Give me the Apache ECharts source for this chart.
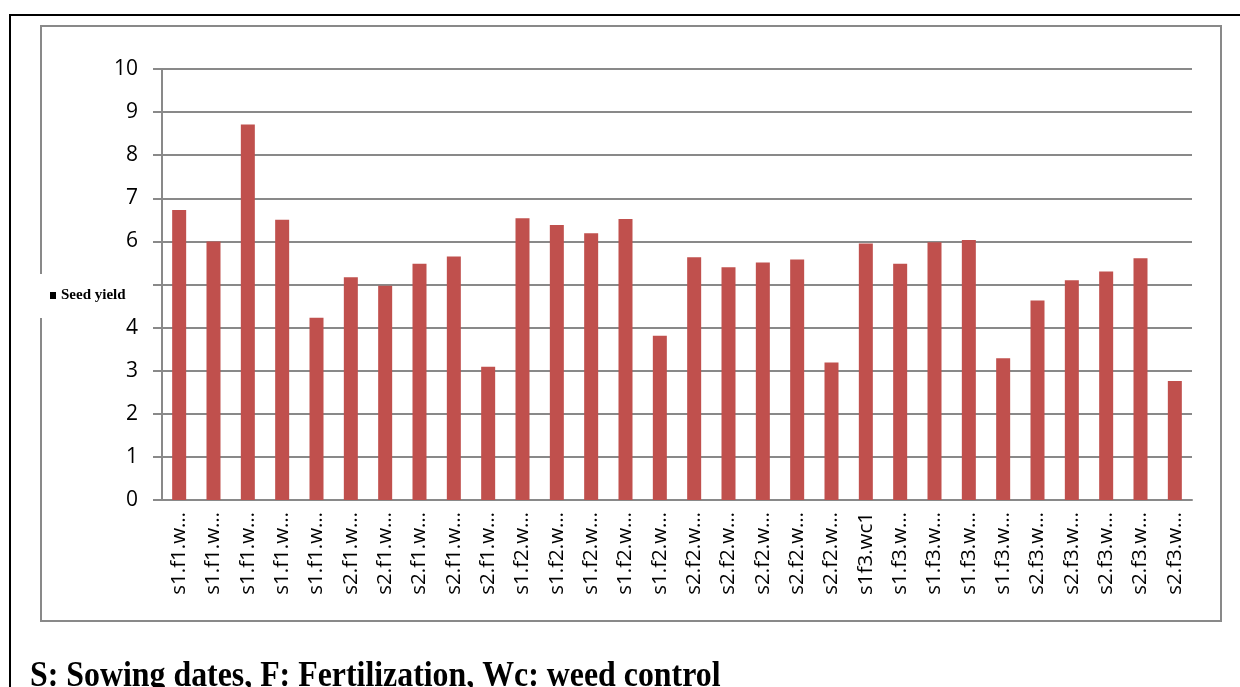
<!DOCTYPE html>
<html>
<head>
<meta charset="utf-8">
<script src="https://cdn.jsdelivr.net/npm/echarts@6/dist/echarts.min.js"></script>
<style>
  html, body { margin: 0; padding: 0; background: #fff; }
  #chart { width: 1240px; height: 687px; }
</style>
</head>
<body>
<div id="chart"></div>
<script>
// treatment combinations, sowing date . fertilization . weed control
const categories = [
  's1.f1.wc1', 's1.f1.wc2', 's1.f1.wc3', 's1.f1.wc4', 's1.f1.wc5',
  's2.f1.wc1', 's2.f1.wc2', 's2.f1.wc3', 's2.f1.wc4', 's2.f1.wc5',
  's1.f2.wc1', 's1.f2.wc2', 's1.f2.wc3', 's1.f2.wc4', 's1.f2.wc5',
  's2.f2.wc1', 's2.f2.wc2', 's2.f2.wc3', 's2.f2.wc4', 's2.f2.wc5',
  's1f3.wc1', 's1.f3.wc2', 's1.f3.wc3', 's1.f3.wc4', 's1.f3.wc5',
  's2.f3.wc1', 's2.f3.wc2', 's2.f3.wc3', 's2.f3.wc4', 's2.f3.wc5'
];
const seedYield = [
  6.73, 6.0, 8.71, 6.5, 4.23,
  5.17, 4.97, 5.48, 5.65, 3.09,
  6.54, 6.38, 6.19, 6.52, 3.81,
  5.63, 5.4, 5.51, 5.58, 3.19,
  5.95, 5.48, 5.98, 6.03, 3.29,
  4.63, 5.1, 5.3, 5.61, 2.76
];
const seriesName = 'Seed yield';
const caption = 'S: Sowing dates, F: Fertilization, Wc: weed control';

const gray = '#898989';
const chart = echarts.init(document.getElementById('chart'));

const option = {
  animation: false,
  backgroundColor: '#fff',
  grid: { left: 162, right: 48, top: 69, bottom: 187 },
  legend: {
    data: [seriesName],
    left: 40,
    top: 274,
    orient: 'vertical',
    padding: [14, 16, 15, 10],
    backgroundColor: '#fff',
    icon: 'rect',
    itemWidth: 6,
    itemHeight: 7,
    itemStyle: { color: '#000' },
    textStyle: { fontFamily: 'Liberation Serif', fontWeight: 'bold', fontSize: 15, color: '#000' }
  },
  xAxis: {
    type: 'category',
    data: categories,
    axisLine: { lineStyle: { color: gray, width: 2 } },
    axisTick: { length: 7, lineStyle: { color: gray, width: 2 } },
    axisLabel: {
      rotate: 90,
      interval: 0,
      margin: 12,
      color: '#000',
      fontFamily: 'Open Sans',
      fontSize: 20.5,
      formatter: function (v) {
        return v.length > 8 ? v.slice(0, 7) + '…' : v;
      }
    }
  },
  yAxis: {
    type: 'value',
    min: 0,
    max: 10,
    interval: 1,
    axisLine: { show: true, lineStyle: { color: gray, width: 2 } },
    axisTick: { show: true, length: 9, lineStyle: { color: gray, width: 2 } },
    splitLine: { lineStyle: { color: gray, width: 2 } },
    axisLabel: { color: '#000', fontFamily: 'Open Sans', fontSize: 21, margin: 24 }
  },
  series: [{
    name: seriesName,
    type: 'bar',
    data: seedYield,
    barWidth: 14,
    itemStyle: { color: '#C0504D' }
  }],
  graphic: [
    // outer black frame
    { type: 'line', shape: { x1: 10, y1: 15, x2: 1240, y2: 15 }, style: { stroke: '#000', lineWidth: 2 } },
    { type: 'line', shape: { x1: 10, y1: 14, x2: 10, y2: 687 }, style: { stroke: '#000', lineWidth: 2 } },
    // chart area border
    { type: 'rect', z: -1, shape: { x: 41, y: 26, width: 1180, height: 595 }, style: { fill: 'none', stroke: gray, lineWidth: 2 } },
    {
      type: 'text', x: 30, y: 695, scaleX: 0.885,
      style: {
        text: caption, fill: '#000', fontFamily: 'Liberation Serif', fontWeight: 'bold', fontSize: 36,
        verticalAlign: 'bottom'
      }
    }
  ]
};
chart.setOption(option);
</script>
</body>
</html>
